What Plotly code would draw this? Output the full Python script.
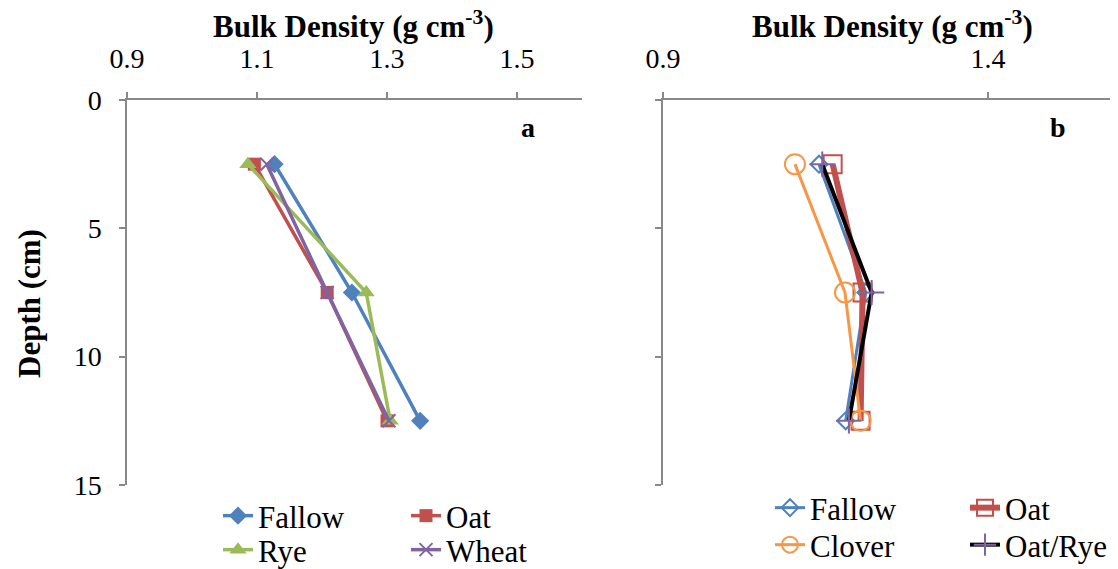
import plotly.graph_objects as go

depth = [2.5, 7.5, 12.5]

# Panel a
a_fallow = [1.127, 1.246, 1.351]
a_oat = [1.096, 1.208, 1.300]
a_rye = [1.086, 1.268, 1.305]
a_wheat = [1.115, 1.208, 1.303]

# Panel b
b_fallow = [1.140, 1.212, 1.181]
b_oat = [1.161, 1.207, 1.204]
b_clover = [1.103, 1.180, 1.204]
b_oatrye = [1.145, 1.221, 1.186]

FONT = "Times New Roman, Liberation Serif, serif"
OFF = 8                      # page body margin
W, H = 1118 - OFF, 569 - OFF


def px(v):
    return (v - OFF) / W


def py(v):
    return 1 - (v - OFF) / H


fig = go.Figure()


def add(x, name, color, symbol, msize, lw, xa, ya, legend, mcolor=None, mline=None):
    fig.add_trace(go.Scatter(
        x=x, y=depth, name=name, mode="lines+markers",
        line=dict(color=color, width=lw),
        marker=dict(symbol=symbol, size=msize, color=mcolor or color,
                    line=dict(color=mcolor or color, width=mline if mline else 0)),
        xaxis=xa, yaxis=ya, legend=legend,
    ))


# panel a
add(a_fallow, "Fallow", "#4F81BD", "diamond", 14, 3.5, "x", "y", "legend")
add(a_oat, "Oat", "#C0504D", "square", 13, 3.5, "x", "y", "legend2")
add(a_rye, "Rye", "#9BBB59", "triangle-up", 15, 3.5, "x", "y", "legend3")
add(a_wheat, "Wheat", "#8064A2", "x-thin", 13, 3.5, "x", "y", "legend4", mline=2)

# panel b
add(b_fallow, "Fallow", "#4F81BD", "diamond-open", 13, 3, "x2", "y2", "legend5", mline=2)
add(b_oat, "Oat", "#C0504D", "square-open", 18, 6, "x2", "y2", "legend6", mline=2)
add(b_clover, "Clover", "#F79646", "circle-open", 20, 3, "x2", "y2", "legend7", mline=2)
add(b_oatrye, "Oat/Rye", "#000000", "cross-thin", 18, 4, "x2", "y2", "legend8", mcolor="#8064A2", mline=2)

ax_common = dict(
    showline=True, linecolor="#898989", linewidth=1.5, ticks="outside",
    tickcolor="#898989", ticklen=6, tickwidth=1.5, showgrid=False, zeroline=False,
    tickfont=dict(family=FONT, size=28, color="black"), automargin=False,
)

ydom = [py(485), py(100)]
fig.update_layout(
    width=W, height=H, margin=dict(l=0, r=0, t=0, b=0, autoexpand=False),
    paper_bgcolor="white", plot_bgcolor="white",
    font=dict(family=FONT, color="black"),
    xaxis=dict(domain=[px(127), px(582)], range=[0.9, 1.6], dtick=0.2, tick0=0.9,
               tickformat=".1f", side="top", anchor="y", ticklabelstandoff=13, **ax_common),
    yaxis=dict(domain=ydom, range=[15, 0], dtick=5, tick0=0, anchor="x",
               ticklabelstandoff=12, **ax_common),
    xaxis2=dict(domain=[px(663), 1.0], range=[0.9, 1.6], dtick=0.5, tick0=0.9,
                tickformat=".1f", side="top", anchor="y2", ticklabelstandoff=13, **ax_common),
    yaxis2=dict(domain=ydom, range=[15, 0], dtick=5, tick0=0, anchor="x2",
                showticklabels=False, **ax_common),
    showlegend=True,
)

leg_common = dict(font=dict(family=FONT, size=31, color="black"), bgcolor="rgba(0,0,0,0)",
                  orientation="v", xanchor="left", yanchor="middle", tracegroupgap=0,
                  itemsizing="trace")
fig.update_layout(
    legend=dict(x=px(218), y=py(516), **leg_common),
    legend2=dict(x=px(406), y=py(516), **leg_common),
    legend3=dict(x=px(218), y=py(550), **leg_common),
    legend4=dict(x=px(406), y=py(550), **leg_common),
    legend5=dict(x=px(770), y=py(508), **leg_common),
    legend6=dict(x=px(965), y=py(508), **leg_common),
    legend7=dict(x=px(770), y=py(545), **leg_common),
    legend8=dict(x=px(965), y=py(545), **leg_common),
)

ann = []
for cx in (353, 892):
    ann.append(dict(x=px(cx), y=py(24), xref="paper", yref="paper",
                    xanchor="center", yanchor="middle",
                    text="<b>Bulk Density (g cm<sup>-3</sup>)</b>", showarrow=False,
                    font=dict(family=FONT, size=31)))
ann.append(dict(x=px(29), y=py(304), xref="paper", yref="paper",
                xanchor="center", yanchor="middle",
                text="<b>Depth (cm)</b>", showarrow=False, textangle=-90,
                font=dict(family=FONT, size=31)))
ann.append(dict(x=px(528), y=py(128), xref="paper", yref="paper",
                xanchor="center", yanchor="middle",
                text="<b>a</b>", showarrow=False, font=dict(family=FONT, size=28)))
ann.append(dict(x=px(1058), y=py(128), xref="paper", yref="paper",
                xanchor="center", yanchor="middle",
                text="<b>b</b>", showarrow=False, font=dict(family=FONT, size=28)))
fig.update_layout(annotations=ann)

fig.write_html("out.html")
